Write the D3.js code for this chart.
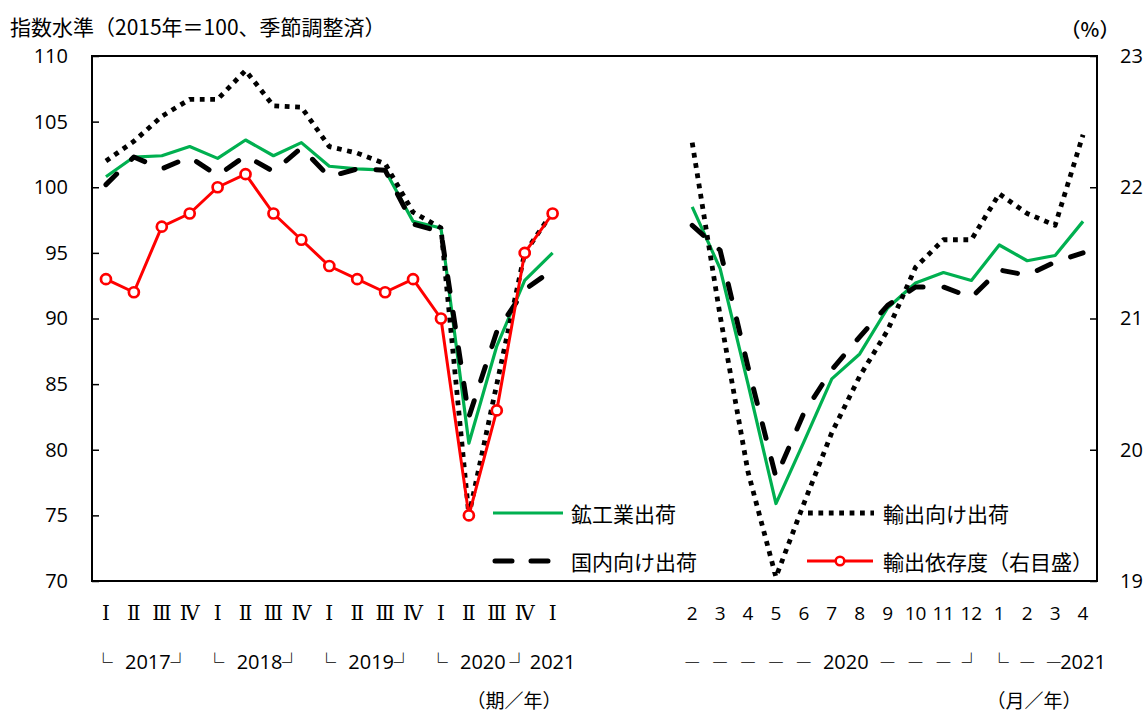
<!DOCTYPE html>
<html>
<head>
<meta charset="utf-8">
<script src="https://cdn.jsdelivr.net/npm/d3@7"></script>
<style>
body { margin: 0; background: #fff; }
svg { display: block; }
</style>
</head>
<body>
<svg width="1145" height="713"></svg>
<script>
// categories: 2017 I .. 2021 I (quarters), 4 empty slots, 2020/2 .. 2021/4 (months)
const quarterLabels = ["Ⅰ","Ⅱ","Ⅲ","Ⅳ","Ⅰ","Ⅱ","Ⅲ","Ⅳ","Ⅰ","Ⅱ","Ⅲ","Ⅳ","Ⅰ","Ⅱ","Ⅲ","Ⅳ","Ⅰ"];
const gapCount = 4;
const monthLabels = ["2","3","4","5","6","7","8","9","10","11","12","1","2","3","4"];

// year row under the ticks: [text, category slot]
const yearRow = [
    ["└", -0.1], ["2017", 1.5], ["┘", 2.65],
    ["└", 3.9], ["2018", 5.5], ["┘", 6.65],
    ["└", 7.9], ["2019", 9.5], ["┘", 10.65],
    ["└", 11.9], ["2020", 13.5], ["┘", 14.8], ["2021", 16],
    ["―", 21], ["―", 22], ["―", 23], ["―", 24], ["―", 25], ["2020", 26.5],
    ["―", 28], ["―", 29], ["―", 30], ["┘", 31], ["└", 32], ["―", 33], ["―", 33.95], ["2021", 35]
];

// 鉱工業出荷
const miningQ = [100.8,102.3,102.4,103.1,102.2,103.6,102.4,103.4,101.6,101.4,101.3,97.4,96.9,80.5,87.9,92.9,95.0];
const miningM = [98.5,93.8,85.0,75.9,80.6,85.4,87.3,90.8,92.7,93.5,92.9,95.6,94.4,94.8,97.4];
// 国内向け出荷
const domesticQ = [100.2,102.3,101.4,102.3,100.9,102.4,101.2,103.0,100.8,101.4,101.3,97.2,96.6,82.5,89.0,92.2,93.7];
const domesticM = [97.1,95.2,86.3,77.9,82.8,86.1,88.6,91.0,92.4,92.4,91.6,93.7,93.3,94.3,95.0];
// 輸出向け出荷
const exportQ = [102.0,103.5,105.4,106.7,106.7,108.9,106.2,106.1,103.1,102.6,101.8,98.1,96.9,75.0,85.0,95.0,98.1];
const exportM = [103.4,90.2,78.3,70.3,75.9,81.3,85.6,89.1,93.9,96.0,96.0,99.5,98.0,97.1,104.0];
// 輸出依存度 (右目盛, %)
const ratioQ = [21.3,21.2,21.7,21.8,22.0,22.1,21.8,21.6,21.4,21.3,21.2,21.3,21.0,19.5,20.3,21.5,21.8];

const leftTicks = [70,75,80,85,90,95,100,105,110];
const rightTicks = [19,20,21,22,23];

const numFont = "'Open Sans', 'Noto Sans CJK JP', sans-serif";
const jpFont = "'Noto Sans CJK JP', sans-serif";

const svg = d3.select("svg");
const nCat = quarterLabels.length + gapCount + monthLabels.length;
const monthStart = quarterLabels.length + gapCount;

const x = d3.scalePoint().domain(d3.range(nCat)).range([92, 1097]).padding(0.5);
const step = x.step();
const xs = v => x(0) + v * step;          // fractional slot position
const yL = d3.scaleLinear().domain([70, 110]).range([581, 56]);
const yR = d3.scaleLinear().domain([19, 23]).range([581, 56]);

// axes
const gl = svg.append("g").attr("transform", "translate(92,0)")
    .call(d3.axisLeft(yL).tickValues(leftTicks).tickSize(-7).tickPadding(24).tickFormat(d3.format("d")));
const gr = svg.append("g").attr("transform", "translate(1097,0)")
    .call(d3.axisRight(yR).tickValues(rightTicks).tickSize(-7).tickPadding(23).tickFormat(d3.format("d")));
for (const g of [gl, gr]) {
    g.select(".domain").remove();
    g.selectAll(".tick line").attr("stroke", "#000").attr("stroke-width", 1.5);
    g.selectAll(".tick text").attr("font-family", numFont).attr("font-size", 20).attr("fill", "#000");
}

svg.append("rect")
    .attr("x", 92).attr("y", 56).attr("width", 1005).attr("height", 525)
    .attr("fill", "none").attr("stroke", "#000").attr("stroke-width", 2);

// category labels
svg.append("g").selectAll("text")
    .data(quarterLabels)
    .join("text")
    .attr("x", (d, i) => x(i))
    .attr("y", 613)
    .attr("dominant-baseline", "central")
    .attr("text-anchor", "middle")
    .attr("font-family", "'DejaVu Serif', serif")
    .attr("font-size", 20)
    .text(d => d);

svg.append("g").selectAll("text")
    .data(monthLabels)
    .join("text")
    .attr("x", (d, i) => x(monthStart + i))
    .attr("y", 613)
    .attr("dominant-baseline", "central")
    .attr("text-anchor", "middle")
    .attr("font-family", numFont)
    .attr("font-size", 19)
    .text(d => d);

svg.append("g").selectAll("text")
    .data(yearRow)
    .join("text")
    .attr("x", d => xs(d[1]))
    .attr("y", 661)
    .attr("dominant-baseline", "central")
    .attr("text-anchor", "middle")
    .attr("font-family", d => /\d/.test(d[0]) ? numFont : jpFont)
    .attr("font-size", d => /\d/.test(d[0]) ? 20 : (d[0] === "―" ? 16 : 19))
    .text(d => d[0]);

svg.append("text").attr("x", 514).attr("y", 699)
    .attr("dominant-baseline", "central").attr("text-anchor", "middle")
    .attr("font-family", jpFont).attr("font-size", 19).text("（期／年）");
svg.append("text").attr("x", 1034).attr("y", 699)
    .attr("dominant-baseline", "central").attr("text-anchor", "middle")
    .attr("font-family", jpFont).attr("font-size", 19).text("（月／年）");

svg.append("text").attr("x", 10).attr("y", 26)
    .attr("dominant-baseline", "central")
    .attr("font-family", jpFont).attr("font-size", 21).text("指数水準（2015年＝100、季節調整済）");
svg.append("text").attr("x", 1090).attr("y", 28)
    .attr("dominant-baseline", "central").attr("text-anchor", "middle")
    .attr("font-family", jpFont).attr("font-size", 20).attr("font-weight", 500).text("（%）");

// series
const styles = {
    mining:   { stroke: "#00b050", width: 3.2, dash: null, cap: "butt" },
    domestic: { stroke: "#000", width: 5, dash: "15 21", cap: "round" },
    exports:  { stroke: "#000", width: 4.8, dash: "4.8 5.6", cap: "butt" },
    ratio:    { stroke: "#ff0000", width: 3, dash: null, cap: "butt" }
};

function drawSeries(vals, offset, y, st) {
    const pts = vals.map((v, i) => [x(offset + i), y(v)]);
    svg.append("path")
        .attr("d", d3.line()(pts))
        .attr("fill", "none")
        .attr("stroke", st.stroke)
        .attr("stroke-width", st.width)
        .attr("stroke-dasharray", st.dash)
        .attr("stroke-linecap", st.cap)
        .attr("stroke-linejoin", "round");
    return pts;
}

drawSeries(miningQ, 0, yL, styles.mining);
drawSeries(miningM, monthStart, yL, styles.mining);
drawSeries(domesticQ, 0, yL, styles.domestic);
drawSeries(domesticM, monthStart, yL, styles.domestic);
drawSeries(exportQ, 0, yL, styles.exports);
drawSeries(exportM, monthStart, yL, styles.exports);
const ratioPts = drawSeries(ratioQ, 0, yR, styles.ratio);
svg.append("g").selectAll("circle")
    .data(ratioPts)
    .join("circle")
    .attr("cx", d => d[0]).attr("cy", d => d[1]).attr("r", 5)
    .attr("fill", "#fff").attr("stroke", "#ff0000").attr("stroke-width", 2.7);

// legend
const legend = [
    { key: "mining",   label: "鉱工業出荷",           x0: 493, x1: 563, tx: 571, y: 513 },
    { key: "domestic", label: "国内向け出荷",         x0: 495, x1: 549, tx: 571, y: 561 },
    { key: "exports",  label: "輸出向け出荷",         x0: 808, x1: 874, tx: 883, y: 513 },
    { key: "ratio",    label: "輸出依存度（右目盛）", x0: 807, x1: 873, tx: 883, y: 561 }
];
const lg = svg.append("g");
for (const item of legend) {
    const st = styles[item.key];
    lg.append("line")
        .attr("x1", item.x0).attr("x2", item.x1).attr("y1", item.y).attr("y2", item.y)
        .attr("stroke", st.stroke).attr("stroke-width", st.width)
        .attr("stroke-dasharray", item.key === "domestic" ? "17 19" : st.dash)
        .attr("stroke-linecap", st.cap);
    if (item.key === "ratio") {
        lg.append("circle").attr("cx", (item.x0 + item.x1) / 2).attr("cy", item.y).attr("r", 4.3)
            .attr("fill", "#fff").attr("stroke", "#ff0000").attr("stroke-width", 2.5);
    }
    lg.append("text").attr("x", item.tx).attr("y", item.y)
        .attr("dominant-baseline", "central")
        .attr("font-family", jpFont).attr("font-size", 21).text(item.label);
}
</script>
</body>
</html>
